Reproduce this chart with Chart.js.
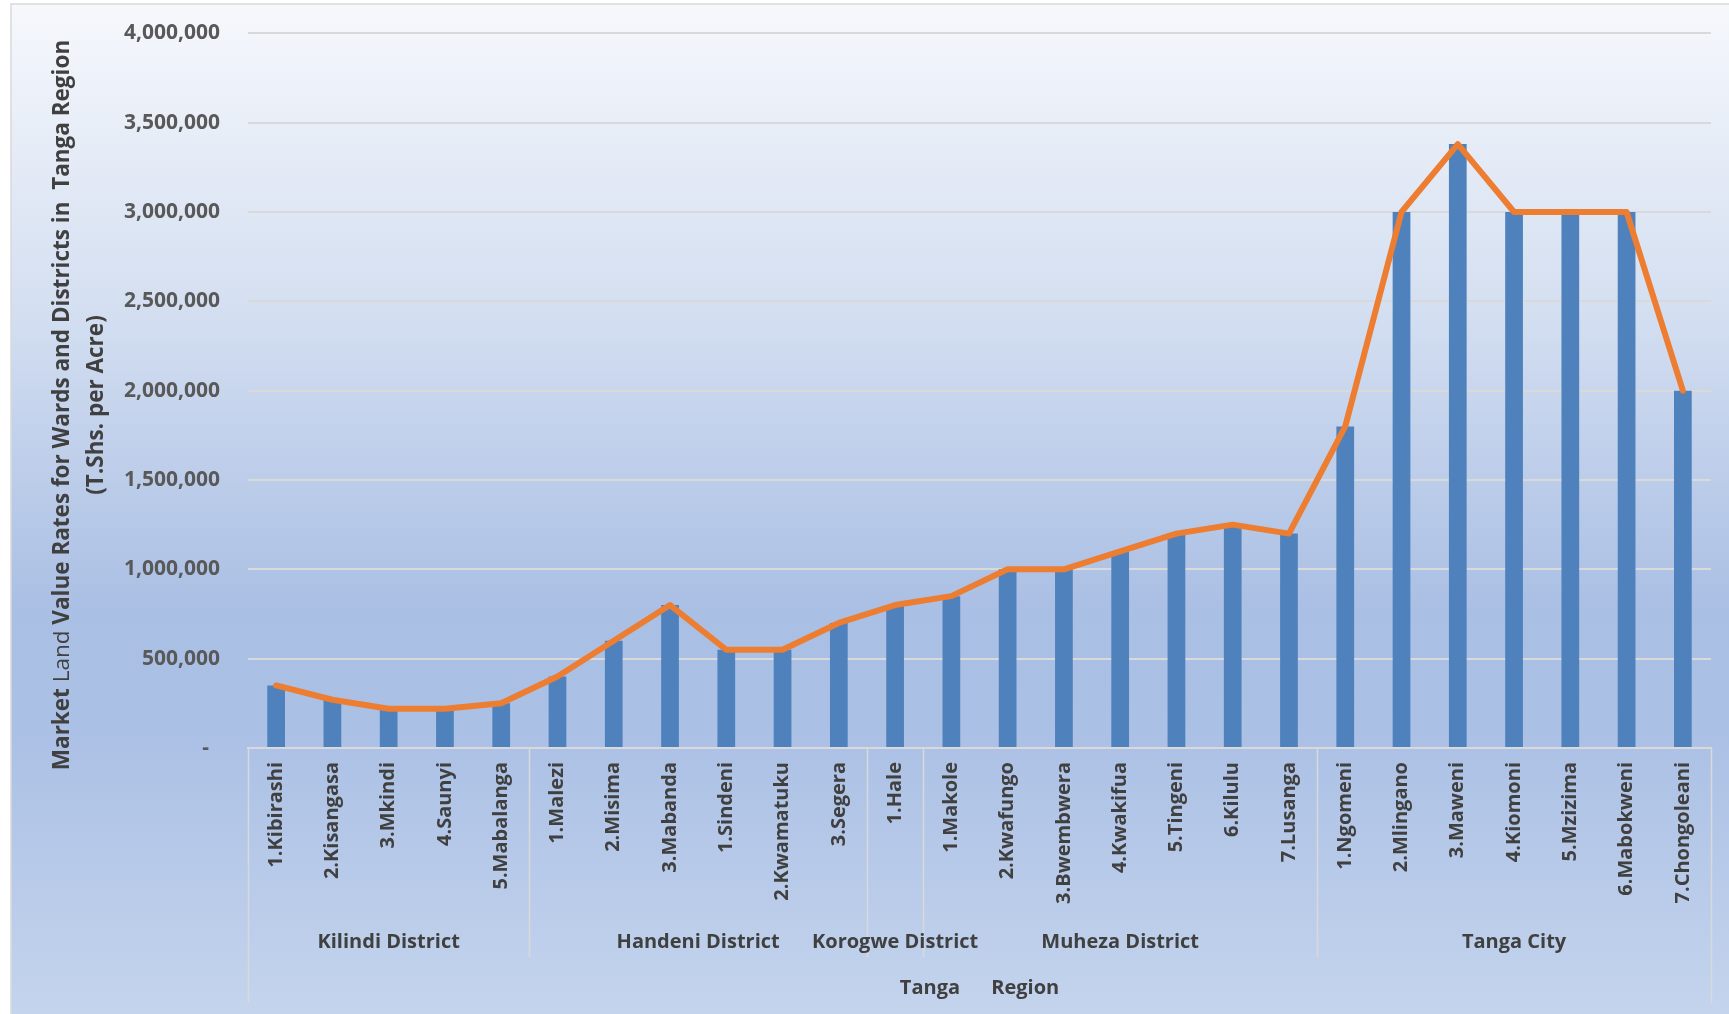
<!DOCTYPE html>
<html>
<head>
<meta charset="utf-8">
<title>Market Land Value Rates - Tanga Region</title>
<script src="https://cdn.jsdelivr.net/npm/chart.js@4/dist/chart.umd.min.js"></script>
<style>
  html, body { margin: 0; padding: 0; background: #ffffff; }
  #wrap { width: 1729px; height: 1014px; position: relative; }
  canvas { display: block; }
</style>
</head>
<body>
<div id="wrap"><canvas id="c" width="1729" height="1014"></canvas></div>
<script>
// Wards (category labels) in drawing order
const wards = [
  '1.Kibirashi', '2.Kisangasa', '3.Mkindi', '4.Saunyi', '5.Mabalanga',
  '1.Malezi', '2.Misima', '3.Mabanda', '1.Sindeni', '2.Kwamatuku', '3.Segera',
  '1.Hale',
  '1.Makole', '2.Kwafungo', '3.Bwembwera', '4.Kwakifua', '5.Tingeni', '6.Kilulu', '7.Lusanga',
  '1.Ngomeni', '2.Mlingano', '3.Maweni', '4.Kiomoni', '5.Mzizima', '6.Mabokweni', '7.Chongoleani'
];

// Market land value rate per ward (T.Shs. per acre)
const landValues = [
  350000, 270000, 220000, 220000, 250000,
  400000, 600000, 800000, 550000, 550000, 700000,
  800000,
  850000, 1000000, 1000000, 1100000, 1200000, 1250000, 1200000,
  1800000, 3000000, 3380000, 3000000, 3000000, 3000000, 2000000
];

// District groups along the category axis
const districtNames = ['Kilindi District', 'Handeni District', 'Korogwe District', 'Muheza District', 'Tanga City'];
const districtSizes = [5, 6, 1, 7, 7];

// Outer category level
const regionLabel = 'Tanga      Region';

// Value axis
const yMin = 0;
const yMax = 4000000;
const yStep = 500000;

// Value axis title (first line is rich text: "Land" is set in regular weight)
const yTitleLine1 = [
  ['Market ', 'bold'],
  ['Land', 'normal'],
  [' Value Rates for Wards and Districts in  Tanga Region', 'bold']
];
const yTitleLine2 = '(T.Shs. per Acre)';

const FONT = "'Open Sans', 'DejaVu Sans', sans-serif";
const TEXT_DARK = '#404040';
const TEXT_MID = '#595959';
const RULE = '#d9d9d9';
const PLOT_TOP = 33.3;

// Keep the top of the value axis at a fixed height inside the frame
const pinTop = {
  id: 'pinTop',
  afterLayout(chart) {
    const a = chart.chartArea;
    const y = chart.scales.y;
    a.top = PLOT_TOP;
    a.height = a.bottom - PLOT_TOP;
    y.top = PLOT_TOP;
    y.height = y.bottom - PLOT_TOP;
    y.configure();
  }
};

const decor = {
  id: 'decor',
  beforeDraw(chart) {
    const ctx = chart.ctx;
    const W = chart.width, H = chart.height;
    ctx.save();
    ctx.fillStyle = '#ffffff';
    ctx.fillRect(0, 0, W, H);
    const g = ctx.createLinearGradient(0, 4, 0, H);
    g.addColorStop(0, '#f6f8fc');
    g.addColorStop(0.3, '#d4dff1');
    g.addColorStop(0.6, '#aabfe4');
    g.addColorStop(0.72, '#abc0e5');
    g.addColorStop(1, '#c4d4ed');
    ctx.fillStyle = g;
    ctx.fillRect(11, 4, W - 11, H - 4);
    ctx.strokeStyle = RULE;
    ctx.lineWidth = 1.5;
    ctx.beginPath();
    ctx.moveTo(11, H);
    ctx.lineTo(11, 4);
    ctx.lineTo(W, 4);
    ctx.stroke();
    ctx.restore();
  },
  afterDraw(chart) {
    const ctx = chart.ctx;
    const x = chart.scales.x;
    const area = chart.chartArea;
    const n = wards.length;
    const edge = (i) => {
      if (i <= 0) return area.left;
      if (i >= n) return area.right;
      return (x.getPixelForValue(i - 1) + x.getPixelForValue(i)) / 2;
    };
    const axisY = area.bottom;

    ctx.save();
    // group separators
    ctx.strokeStyle = RULE;
    ctx.lineWidth = 1.5;
    let start = 0;
    const bounds = [0];
    districtSizes.forEach(s => { start += s; bounds.push(start); });
    bounds.forEach((b, k) => {
      const px = Math.round(edge(b)) + 0.5;
      const outer = (k === 0 || k === bounds.length - 1);
      ctx.beginPath();
      ctx.moveTo(px, axisY);
      ctx.lineTo(px, outer ? 1003 : 957);
      ctx.stroke();
    });

    // district labels
    ctx.fillStyle = TEXT_DARK;
    ctx.font = 'bold 20px ' + FONT;
    ctx.textAlign = 'center';
    ctx.textBaseline = 'middle';
    for (let k = 0; k < districtNames.length; k++) {
      const cx = (edge(bounds[k]) + edge(bounds[k + 1])) / 2;
      ctx.fillText(districtNames[k], cx, 942);
    }

    // region label
    ctx.fillText(regionLabel, (area.left + area.right) / 2, 988);

    // value axis title
    ctx.translate(63, 405);
    ctx.rotate(-Math.PI / 2);
    let total = 0;
    const fontFor = (w) => w + ' 22.5px ' + FONT;
    yTitleLine1.forEach(([t, w]) => { ctx.font = fontFor(w); total += ctx.measureText(t).width; });
    let cur = -total / 2;
    ctx.textAlign = 'left';
    yTitleLine1.forEach(([t, w]) => {
      ctx.font = fontFor(w);
      ctx.fillText(t, cur, 0);
      cur += ctx.measureText(t).width;
    });
    ctx.font = fontFor('bold');
    ctx.textAlign = 'center';
    ctx.fillText(yTitleLine2, 0, 34);
    ctx.restore();
  }
};

new Chart(document.getElementById('c'), {
  data: {
    labels: wards,
    datasets: [
      {
        type: 'line',
        data: landValues,
        borderColor: '#ed7d31',
        borderWidth: 6,
        pointRadius: 0,
        pointHoverRadius: 0,
        tension: 0,
        borderJoinStyle: 'round',
        borderCapStyle: 'round',
        order: 0
      },
      {
        type: 'bar',
        data: landValues,
        backgroundColor: '#4f81bd',
        borderWidth: 0,
        barPercentage: 0.315,
        categoryPercentage: 1,
        order: 1
      }
    ]
  },
  options: {
    responsive: false,
    animation: false,
    devicePixelRatio: 1,
    layout: { padding: { top: 20, right: 18, left: 0, bottom: 0 } },
    plugins: {
      legend: { display: false },
      tooltip: { enabled: false },
      title: { display: false }
    },
    scales: {
      x: {
        type: 'category',
        offset: true,
        grid: { display: false, drawTicks: false },
        border: { display: true, color: RULE, width: 2 },
        ticks: {
          autoSkip: false,
          maxRotation: 90,
          minRotation: 90,
          padding: 14,
          color: TEXT_DARK,
          font: { family: FONT, size: 20, weight: 'bold' }
        },
        afterFit(s) { s.height = 266; }
      },
      y: {
        min: yMin,
        max: yMax,
        grid: { color: RULE, lineWidth: 2, drawTicks: false },
        border: { display: false },
        ticks: {
          stepSize: yStep,
          padding: 28,
          color: TEXT_MID,
          font: { family: FONT, size: 21, weight: 'bold' },
          callback: (v) => v === 0 ? '-  ' : Number(v).toLocaleString('en-US')
        },
        afterFit(s) { s.width = 248; }
      }
    }
  },
  plugins: [pinTop, decor]
});
</script>
</body>
</html>
